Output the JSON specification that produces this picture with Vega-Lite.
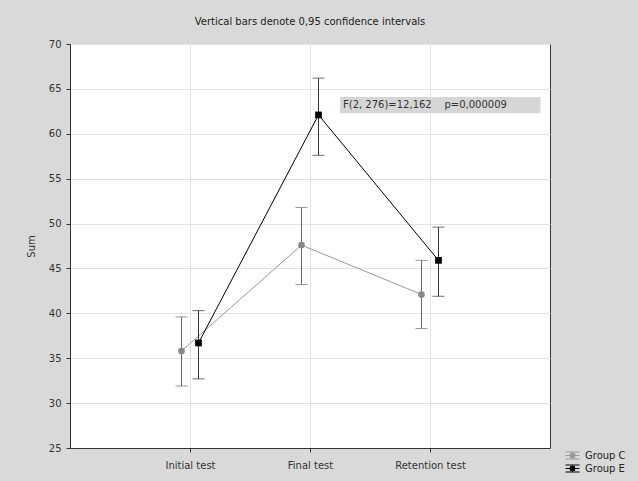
{
  "$schema": "https://vega.github.io/schema/vega-lite/v6.json",
  "autosize": {"type": "none"},
  "padding": {"left": 70, "top": 44, "right": 88, "bottom": 33},
  "width": 480,
  "height": 404,
  "title": {"text": "Vertical bars denote 0,95 confidence intervals", "fontSize": 10, "fontWeight": "normal", "color": "#222", "offset": 12, "anchor": "middle", "font": "DejaVu Sans"},
  "layer": [
    {
      "data": {"values": [
        {"test": "Initial test", "group": "Group C", "mean": 35.8, "lo": 31.9, "hi": 39.6},
        {"test": "Final test", "group": "Group C", "mean": 47.6, "lo": 43.2, "hi": 51.8},
        {"test": "Retention test", "group": "Group C", "mean": 42.1, "lo": 38.3, "hi": 45.9},
        {"test": "Initial test", "group": "Group E", "mean": 36.7, "lo": 32.7, "hi": 40.3},
        {"test": "Final test", "group": "Group E", "mean": 62.1, "lo": 57.6, "hi": 66.2},
        {"test": "Retention test", "group": "Group E", "mean": 45.9, "lo": 41.9, "hi": 49.6}
      ]},
      "encoding": {
        "x": {"field": "test", "type": "nominal", "sort": ["Initial test", "Final test", "Retention test"],
              "scale": {"type": "point", "padding": 1},
              "axis": {"title": null, "labelAngle": 0, "labelPadding": 8, "grid": true}},
        "xOffset": {"field": "group", "type": "nominal", "scale": {"type": "point", "padding": 0, "range": [-8.5, 8.5]}}
      },
      "layer": [
        {
          "mark": {"type": "line", "strokeWidth": 1},
          "encoding": {
            "y": {"field": "mean", "type": "quantitative", "scale": {"domain": [25, 70], "nice": false, "zero": false},
                  "axis": {"title": "Sum", "values": [25, 30, 35, 40, 45, 50, 55, 60, 65, 70], "titlePadding": 12}},
            "color": {"field": "group", "type": "nominal",
                      "scale": {"domain": ["Group C", "Group E"], "range": ["#999999", "#000000"]},
                      "legend": {"title": null, "orient": "none", "legendX": 495, "legendY": 404,
                                 "symbolType": "M-1,-0.5H1M-1,0H1M-1,0.5H1M0,-0.5V0.5M-0.3,-0.3H0.3V0.3H-0.3Z",
                                 "symbolSize": 196, "symbolStrokeWidth": 1, "labelFontSize": 10, "labelColor": "#222",
                                 "rowPadding": 0, "labelOffset": 5,
                                 "encode": {"symbols": {"update": {
                                   "fill": {"scale": "color", "field": "value"},
                                   "stroke": {"scale": "color", "field": "value"},
                                   "opacity": {"value": 1},
                                   "strokeWidth": {"value": 1}}}}}}
          }
        },
        {
          "mark": {"type": "rule", "strokeWidth": 1},
          "encoding": {
            "y": {"field": "lo", "type": "quantitative"},
            "y2": {"field": "hi"},
            "color": {"condition": {"test": "datum.group === 'Group C'", "value": "#6a6a6a"}, "value": "#333333"}
          }
        },
        {
          "mark": {"type": "tick", "size": 12, "thickness": 1},
          "encoding": {
            "y": {"field": "lo", "type": "quantitative"},
            "color": {"condition": {"test": "datum.group === 'Group C'", "value": "#6a6a6a"}, "value": "#333333"}
          }
        },
        {
          "mark": {"type": "tick", "size": 12, "thickness": 1},
          "encoding": {
            "y": {"field": "hi", "type": "quantitative"},
            "color": {"condition": {"test": "datum.group === 'Group C'", "value": "#6a6a6a"}, "value": "#333333"}
          }
        },
        {
          "transform": [{"filter": "datum.group === 'Group C'"}],
          "mark": {"type": "point", "shape": "circle", "filled": true, "opacity": 1, "size": 45, "color": "#888888"},
          "encoding": {
            "y": {"field": "mean", "type": "quantitative"}
          }
        },
        {
          "transform": [{"filter": "datum.group === 'Group E'"}],
          "mark": {"type": "point", "shape": "square", "filled": true, "opacity": 1, "size": 45, "color": "#000000"},
          "encoding": {
            "y": {"field": "mean", "type": "quantitative"}
          }
        }
      ]
    },
    {
      "data": {"values": [
        {"label": "F(2, 276)=12,162\u00a0\u00a0\u00a0\u00a0p=0,000009", "x1": 2.25, "x2": 3.92, "y1": 62.3, "y2": 64.1, "ymid": 63.2}
      ]},
      "layer": [
        {
          "mark": {"type": "rect", "color": "#d6d6d6"},
          "encoding": {
            "x": {"field": "x1", "type": "quantitative", "scale": {"domain": [0, 4], "nice": false}, "axis": null},
            "x2": {"field": "x2"},
            "y": {"field": "y1", "type": "quantitative"},
            "y2": {"field": "y2"}
          }
        },
        {
          "mark": {"type": "text", "align": "left", "baseline": "middle", "dx": 3, "fontSize": 10, "color": "#333333", "font": "DejaVu Sans"},
          "encoding": {
            "x": {"field": "x1", "type": "quantitative"},
            "y": {"field": "ymid", "type": "quantitative"},
            "text": {"field": "label"}
          }
        }
      ]
    }
  ],
  "resolve": {"scale": {"x": "independent"}, "axis": {"x": "independent"}},
  "config": {
    "background": "#d9d9d9",
    "font": "DejaVu Sans",
    "view": {"fill": "white", "stroke": "#333333", "strokeWidth": 1},
    "axis": {"labelFont": "DejaVu Sans", "labelFontSize": 10, "labelColor": "#333333", "domainColor": "#333333",
             "tickColor": "#333333", "gridColor": "#e2e2e2", "tickSize": 4, "labelPadding": 5,
             "titleFont": "DejaVu Sans", "titleFontSize": 10, "titleFontWeight": "normal", "titleColor": "#333333"},
    "legend": {"labelFont": "DejaVu Sans"}
  }
}
